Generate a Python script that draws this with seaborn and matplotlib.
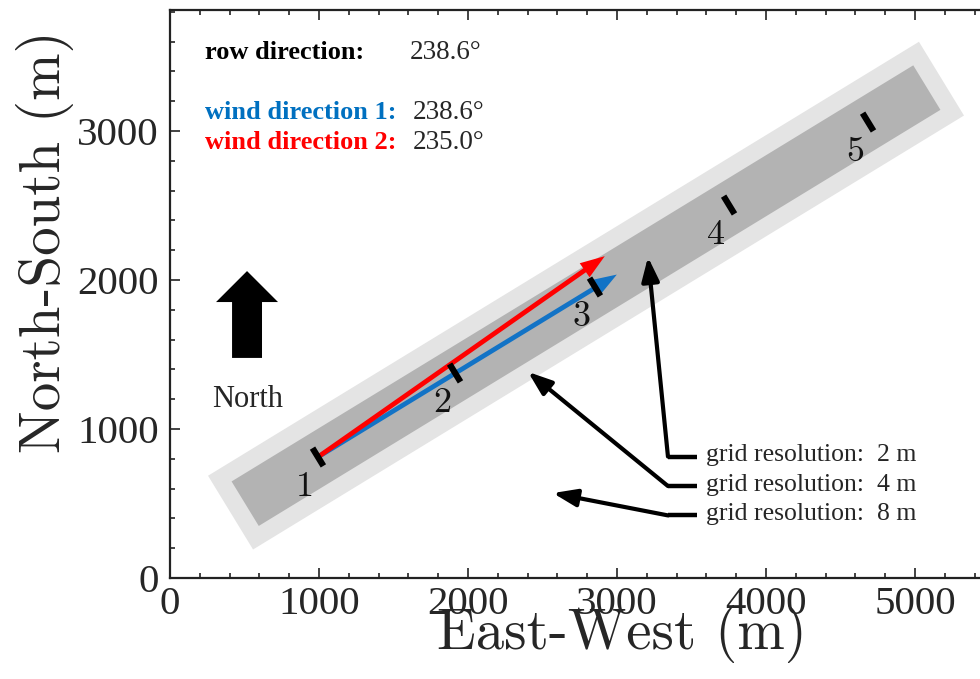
import numpy as np
import pandas as pd
import matplotlib
matplotlib.use("Agg")
import matplotlib.pyplot as plt
from matplotlib.ticker import MultipleLocator
import seaborn as sns

# Directions in degrees (meteorological: the direction the wind comes from)
row_direction = 238.6
wind_labels = ["wind direction 1:", "wind direction 2:"]
wind_directions = [238.6, 235.0]
wind_colors = ["#1273C6", "#FF0000"]
wind_text_colors = ["#0070C0", "#FF0000"]
arrow_length = 2350.0

# Turbine-row strip (outer and inner refinement zones), metres
strip_center = [2792.0, 1895.0]
strip_lengths = [5590.0, 5360.0]
strip_widths = [580.0, 350.0]
strip_colors = ["#E4E4E4", "#B3B3B3"]

# Turbine positions (m) and rotor diameter
turbine_ids = ["1", "2", "3", "4", "5"]
turbine_x = [993, 1913, 2852, 3752, 4685]
turbine_y = [812, 1376, 1953, 2503, 3060]
rotor_diameter = 140.0

# Grid-resolution call-outs: label and the point each arrow indicates
grid_labels = ["grid resolution:  2 m", "grid resolution:  4 m", "grid resolution:  8 m"]
grid_target_x = [3208, 2403, 2570]
grid_target_y = [2154, 1383, 570]
grid_label_y = [815, 617, 420]

x_ticks = [0, 1000, 2000, 3000, 4000, 5000]
y_ticks = [0, 1000, 2000, 3000]


def heading(direction_deg):
    """Unit vector (east, north) of the flow for a 'from' direction."""
    az = np.deg2rad(direction_deg - 180.0)
    return np.array([np.sin(az), np.cos(az)])


sns.set_theme(style="ticks")
plt.rcParams["font.family"] = ["Liberation Serif", "DejaVu Serif"]
plt.rcParams["mathtext.fontset"] = "cm"

fig = plt.figure(figsize=(9.8, 6.79), dpi=100)
ax = fig.add_axes([170 / 980, 101 / 679, 894 / 980, 568 / 679])
ax.set_xlim(0, 6000)
ax.set_ylim(0, 3812)

u = heading(row_direction)
nrm = np.array([-u[1], u[0]])
c0 = np.array(strip_center)

# Refinement strips along the row
for L, W, col in zip(strip_lengths, strip_widths, strip_colors):
    corners = np.array([
        c0 - u * L / 2 - nrm * W / 2,
        c0 + u * L / 2 - nrm * W / 2,
        c0 + u * L / 2 + nrm * W / 2,
        c0 - u * L / 2 + nrm * W / 2,
    ])
    ax.fill(corners[:, 0], corners[:, 1], color=col, lw=0, zorder=1)

# Wind direction arrows starting at the first turbine
for wd, col in zip(wind_directions, wind_colors):
    d = heading(wd) * arrow_length
    ax.arrow(turbine_x[0], turbine_y[0], d[0], d[1], width=32, head_width=115,
             head_length=165, length_includes_head=True, color=col, lw=0, zorder=3)

# Turbine rotors as short bars normal to the row
rows = []
for tid, x, y in zip(turbine_ids, turbine_x, turbine_y):
    for s in (-0.5, 0.5):
        rows.append({"turbine": tid,
                     "x": x + s * rotor_diameter * nrm[0],
                     "y": y + s * rotor_diameter * nrm[1]})
rotors = pd.DataFrame(rows)
sns.lineplot(data=rotors, x="x", y="y", units="turbine", estimator=None, sort=False,
             color="black", lw=4.5, solid_capstyle="butt", legend=False, ax=ax, zorder=5)

for tid, x, y in zip(turbine_ids, turbine_x, turbine_y):
    ax.annotate(tid, (x, y), xytext=(-9.5, -22), textcoords="offset points",
                ha="center", va="center", family="cmr10", fontsize=26, color="#111111",
                zorder=6)

# North arrow
ax.arrow(517, 1477, 0, 583, width=201, head_width=416, head_length=208,
         length_includes_head=True, color="black", lw=0, zorder=4)
ax.text(523, 1195, "North", ha="center", va="center", fontsize=22)

# Direction summary
ax.text(0.039, 0.926, "row direction:", transform=ax.transAxes, fontsize=19,
        fontweight="bold", va="center", ha="left", color="black")
ax.text(0.2685, 0.926, f"{row_direction:.1f}°", transform=ax.transAxes, fontsize=19.5,
        va="center", ha="left")
for i, (lab, wd, tc) in enumerate(zip(wind_labels, wind_directions, wind_text_colors)):
    yy = 0.8187 - i * 0.0528
    ax.text(0.039, yy, lab, transform=ax.transAxes, fontsize=19, fontweight="bold",
            va="center", ha="left", color=tc)
    ax.text(0.272, yy, f"{wd:.1f}°", transform=ax.transAxes, fontsize=19.5,
            va="center", ha="left")

# Grid-resolution call-outs
elbow_x, line_end_x, text_x = 3342, 3537, 3597
for lab, tx, ty, ly in zip(grid_labels, grid_target_x, grid_target_y, grid_label_y):
    ax.plot([elbow_x, line_end_x], [ly, ly], color="black", lw=3.2,
            solid_capstyle="butt", zorder=4)
    ax.annotate("", xy=(tx, ty), xytext=(elbow_x, ly),
                arrowprops=dict(arrowstyle="-|>,head_length=0.6,head_width=0.22",
                                mutation_scale=24, color="black", lw=3.0,
                                shrinkA=0, shrinkB=0),
                zorder=4)
    ax.text(text_x, ly + 10, lab, ha="left", va="center", fontsize=18.5)

# Axes styling
ax.set_xticks(x_ticks)
ax.set_yticks(y_ticks)
ax.xaxis.set_minor_locator(MultipleLocator(200))
ax.yaxis.set_minor_locator(MultipleLocator(200))
ax.tick_params(which="both", direction="in", top=True, right=True,
               width=1.2, color="#222222")
ax.tick_params(which="major", length=7, labelsize=29.5)
ax.tick_params(axis="x", which="major", pad=6)
ax.tick_params(axis="y", which="major", pad=8)
ax.tick_params(which="minor", length=3.5)
for sp in ax.spines.values():
    sp.set_linewidth(1.6)
    sp.set_color("#222222")

ax.set_xlabel("East-West (m)", family="cmr10", fontsize=41)
ax.set_ylabel("North-South (m)", family="cmr10", fontsize=41)
ax.xaxis.label.set_va("center")
ax.yaxis.label.set_va("center")
ax.xaxis.set_label_coords(0.506, -0.0986)
ax.yaxis.set_label_coords(-0.1398, 0.5915)

fig.savefig("out.png", dpi=100)
